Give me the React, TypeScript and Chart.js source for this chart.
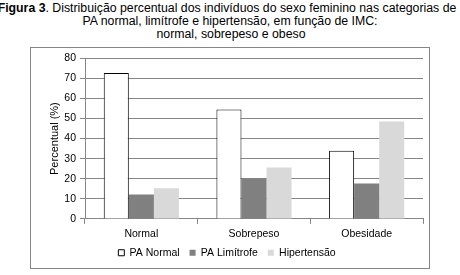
import React, { useEffect, useRef } from "react";
import { Chart, registerables } from "chart.js";

Chart.register(...registerables);

const categories = ["Normal", "Sobrepeso", "Obesidade"];
const seriesNames = ["PA Normal", "PA Limítrofe", "Hipertensão"];
const paNormal = [72.7, 54.5, 34];
const paLimitrofe = [12.1, 20.1, 17.6];
const hipertensao = [15.3, 25.6, 48.5];
const yTicks = [0, 10, 20, 30, 40, 50, 60, 70, 80];

const FONT = "'Liberation Sans', Arial, sans-serif";
const GRID = "#868686";
const LEGEND_TRIM = 7;

const legendTrim = {
  id: "legendTrim",
  beforeLayout(chart: any) {
    const lg = chart.legend;
    if (!lg || lg._trimmed) return;
    lg._trimmed = true;
    const origFit = lg.fit.bind(lg);
    lg.fit = function () {
      origFit();
      this.height -= LEGEND_TRIM;
    };
    const origDraw = lg.draw.bind(lg);
    lg.draw = function (...args: any[]) {
      this.top -= LEGEND_TRIM;
      this.bottom -= LEGEND_TRIM;
      origDraw(...args);
      this.top += LEGEND_TRIM;
      this.bottom += LEGEND_TRIM;
    };
  },
};

export default function App() {
  const ref = useRef<HTMLCanvasElement | null>(null);

  useEffect(() => {
    if (!ref.current) return;
    const chart = new Chart(ref.current, {
      type: "bar",
      data: {
        labels: categories,
        datasets: [
          {
            label: seriesNames[0],
            data: paNormal,
            backgroundColor: "#ffffff",
            borderColor: "#000000",
            borderWidth: 1,
          },
          {
            label: seriesNames[1],
            data: paLimitrofe,
            backgroundColor: "#808080",
            borderWidth: 0,
          },
          {
            label: seriesNames[2],
            data: hipertensao,
            backgroundColor: "#d9d9d9",
            borderWidth: 0,
          },
        ],
      },
      plugins: [legendTrim],
      options: {
        animation: false,
        responsive: false,
        maintainAspectRatio: false,
        layout: { padding: { top: 3, left: 0, right: 6, bottom: 0 } },
        datasets: { bar: { categoryPercentage: 0.667, barPercentage: 1.0 } },
        plugins: {
          tooltip: { enabled: false },
          legend: {
            position: "bottom",
            labels: {
              boxWidth: 6,
              boxHeight: 6,
              padding: 10,
              color: "#000",
              font: { family: FONT, size: 10.5 },
            },
          },
        },
        scales: {
          x: {
            grid: {
              display: true,
              drawOnChartArea: false,
              drawTicks: true,
              tickLength: 5,
              color: GRID,
              offset: true,
            },
            border: { display: true, color: GRID },
            ticks: {
              color: "#000",
              padding: 4,
              font: { family: FONT, size: 10.5 },
            },
          },
          y: {
            min: 0,
            max: 80,
            afterBuildTicks: (scale: any) => {
              scale.ticks = yTicks.map((v) => ({ value: v }));
            },
            afterFit: (scale: any) => {
              scale.width = 54;
            },
            grid: { color: GRID, tickLength: 5, drawTicks: true },
            border: { display: true, color: GRID },
            ticks: {
              color: "#000",
              padding: 4,
              font: { family: FONT, size: 10.5 },
            },
            title: {
              display: true,
              text: "Percentual (%)",
              color: "#000",
              padding: { top: 17, bottom: 0 },
              font: { family: FONT, size: 11 },
            },
          },
        },
      },
    });
    return () => chart.destroy();
  }, []);

  const lineStyle: React.CSSProperties = {
    position: "absolute",
    whiteSpace: "nowrap",
    height: 13,
    lineHeight: "13px",
    transform: "translateX(-50%)",
  };

  return (
    <div
      style={{
        position: "absolute",
        left: 0,
        top: 0,
        width: 460,
        height: 275,
        background: "#fff",
        fontFamily: FONT,
        fontSize: 12.3,
        color: "#000",
      }}
    >
      <div style={{ ...lineStyle, top: 2, left: 227 }}>
        <b>Figura 3</b>. Distribuição percentual dos indivíduos do sexo feminino nas categorias de
      </div>
      <div style={{ ...lineStyle, top: 15, left: 230 }}>
        PA normal, limítrofe e hipertensão, em função de IMC:
      </div>
      <div style={{ ...lineStyle, top: 28, left: 231 }}>normal, sobrepeso e obeso</div>
      <div
        style={{
          position: "absolute",
          left: 30,
          top: 47,
          width: 398,
          height: 220,
          border: `1px solid ${GRID}`,
        }}
      >
        <canvas ref={ref} width={398} height={220} style={{ display: "block" }} />
      </div>
    </div>
  );
}
